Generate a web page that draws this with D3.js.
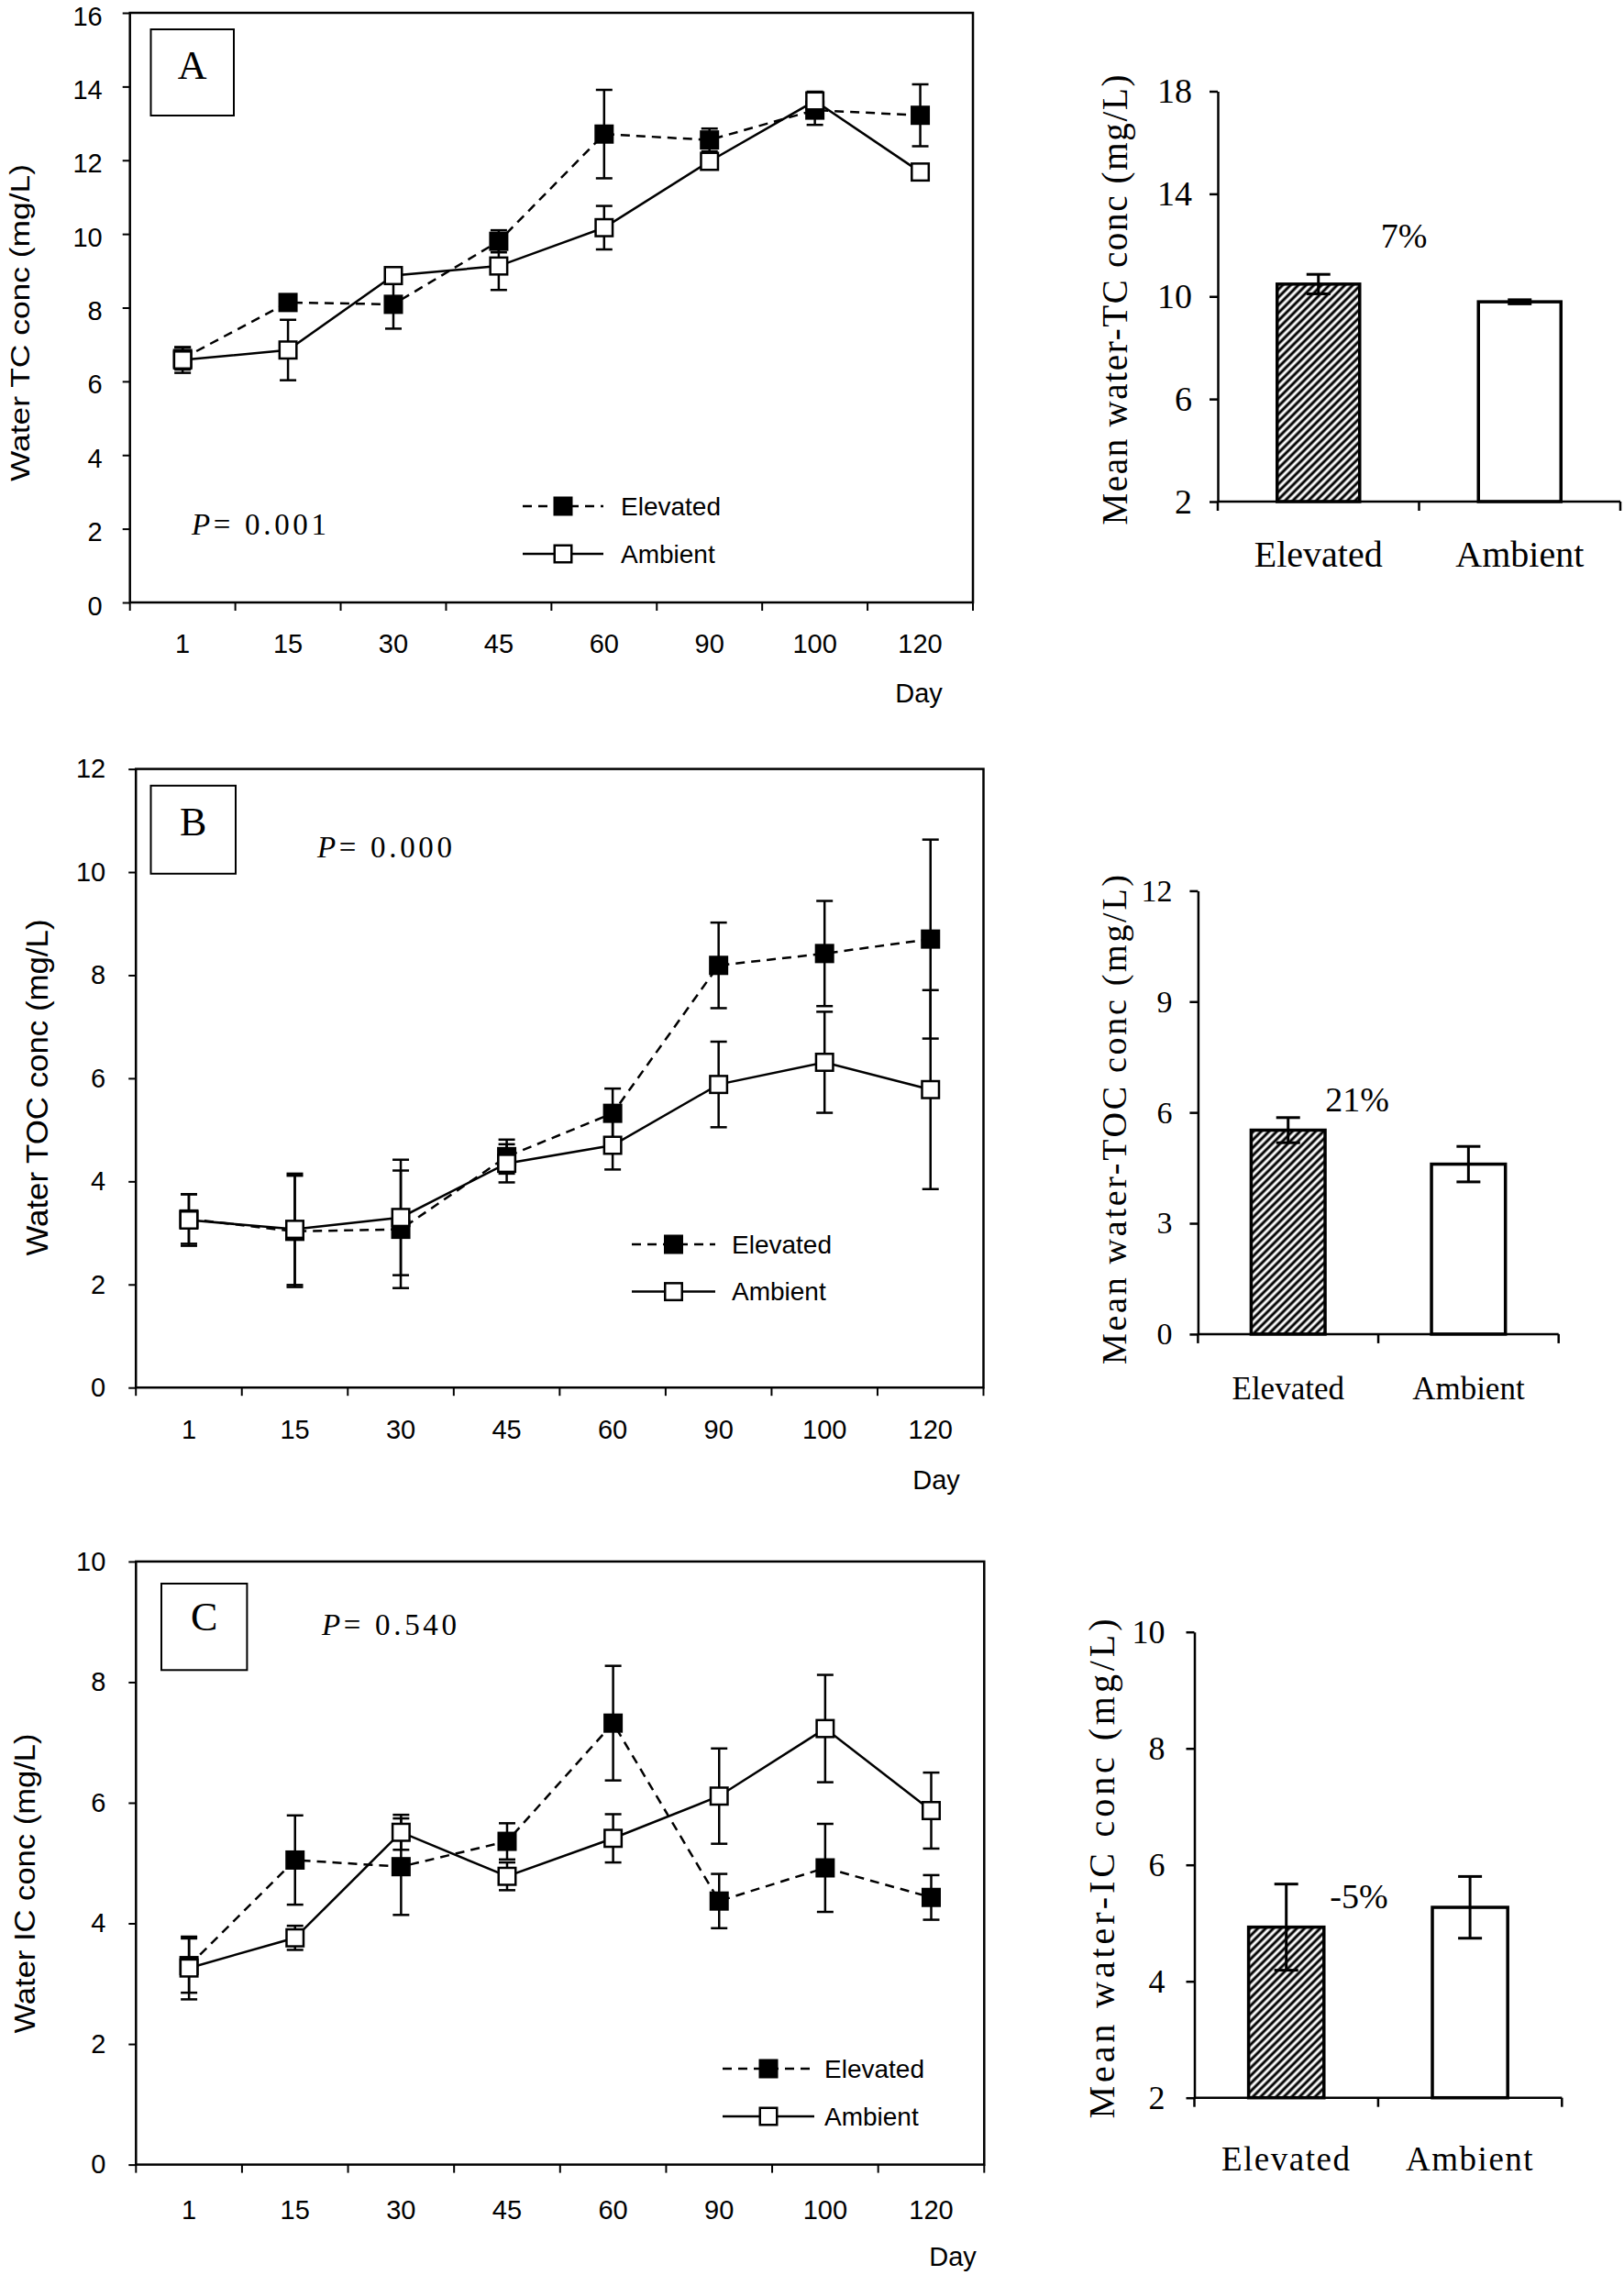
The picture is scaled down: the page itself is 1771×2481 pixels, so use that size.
<!DOCTYPE html>
<html>
<head>
<meta charset="utf-8">
<script src="https://d3js.org/d3.v7.min.js"></script>
<style>
  html, body { margin: 0; padding: 0; background: #fff; }
  svg { display: block; }
</style>
</head>
<body>
<svg id="fig" width="1771" height="2481"></svg>
<script>
// sampling days (x categories of the line charts)
const days = ['1', '15', '30', '45', '60', '90', '100', '120'];
const groups = ['Elevated', 'Ambient'];

// A: water total carbon (mg/L)
const tcElevated    = [6.62, 8.14, 8.09, 9.80, 12.71, 12.55, 13.36, 13.22];
const tcElevatedErr = [0.30, 0.10, 0.66, 0.30, 1.20, 0.31, 0.40, 0.84];
const tcAmbient     = [6.58, 6.85, 8.87, 9.13, 10.17, 11.97, 13.61, 11.68];
const tcAmbientErr  = [0.35, 0.82, 0.15, 0.65, 0.59, 0.15, 0.25, 0.10];
const tcTicks = [0, 2, 4, 6, 8, 10, 12, 14, 16];
const tcMean = [10.48, 9.79];
const tcMeanErr = [0.38, 0.08];
const tcMeanTicks = [2, 6, 10, 14, 18];

// B: water total organic carbon (mg/L)
const tocElevated    = [3.27, 3.03, 3.07, 4.48, 5.32, 8.19, 8.42, 8.70];
const tocElevatedErr = [0.48, 1.08, 1.14, 0.33, 0.48, 0.83, 1.02, 1.93];
const tocAmbient     = [3.25, 3.07, 3.30, 4.35, 4.70, 5.88, 6.31, 5.78];
const tocAmbientErr  = [0.50, 1.08, 1.12, 0.37, 0.47, 0.83, 0.98, 1.93];
const tocTicks = [0, 2, 4, 6, 8, 10, 12];
const tocMean = [5.52, 4.60];
const tocMeanErr = [0.34, 0.48];
const tocMeanTicks = [0, 3, 6, 9, 12];

// C: water inorganic carbon (mg/L)
const icElevated    = [3.30, 5.05, 4.94, 5.36, 7.32, 4.37, 4.92, 4.43];
const icElevatedErr = [0.45, 0.74, 0.80, 0.30, 0.95, 0.45, 0.73, 0.37];
const icAmbient     = [3.26, 3.76, 5.51, 4.78, 5.41, 6.11, 7.23, 5.87];
const icAmbientErr  = [0.52, 0.20, 0.29, 0.23, 0.40, 0.79, 0.89, 0.63];
const icTicks = [0, 2, 4, 6, 8, 10];
const icMean = [4.93, 5.27];
const icMeanErr = [0.74, 0.53];
const icMeanTicks = [2, 4, 6, 8, 10];

const SANS = '"Liberation Sans", Arial, sans-serif';
const SERIF = '"Liberation Serif", "Times New Roman", serif';

const svg = d3.select('#fig');
svg.append('rect').attr('width', 1771).attr('height', 2481).attr('fill', '#fff');

// diagonal hatch for the elevated bars
svg.append('defs').append('pattern')
  .attr('id', 'hatch')
  .attr('patternUnits', 'userSpaceOnUse')
  .attr('width', 6).attr('height', 6)
  .attr('patternTransform', 'rotate(45)')
  .call(p => {
    p.append('rect').attr('width', 6).attr('height', 6).attr('fill', '#fff');
    p.append('line').attr('x1', 3).attr('x2', 3).attr('y1', 0).attr('y2', 6)
      .attr('stroke', '#000').attr('stroke-width', 3);
  });

function linePanel(o) {
  const x = d3.scaleBand().domain(days).range([o.left, o.right]);
  const y = d3.scaleLinear().domain([0, d3.max(o.ticks)]).range([o.bottom, o.top]);
  const g = svg.append('g');

  // y axis
  g.append('g').attr('transform', `translate(${o.left},0)`)
    .call(d3.axisLeft(y).tickValues(o.ticks).tickSize(8).tickPadding(o.yPad).tickSizeOuter(0))
    .call(a => a.select('.domain').remove())
    .call(a => a.selectAll('line').attr('stroke', '#000').attr('stroke-width', 2))
    .call(a => a.selectAll('text').attr('font-family', SANS).attr('font-size', 29)
      .attr('dy', o.yDy || '0.32em').attr('fill', '#000'));

  // x labels at band centres, ticks at band edges
  g.append('g').attr('transform', `translate(0,${o.bottom})`)
    .call(d3.axisBottom(x).tickSize(0).tickPadding(o.xPad))
    .call(a => a.select('.domain').remove())
    .call(a => a.selectAll('text').attr('font-family', SANS).attr('font-size', 29).attr('fill', '#000'));
  const edges = days.map(d => x(d)).concat([o.right]);
  g.append('g').selectAll('line').data(edges).join('line')
    .attr('x1', d => d).attr('x2', d => d)
    .attr('y1', o.bottom).attr('y2', o.bottom + 9)
    .attr('stroke', '#000').attr('stroke-width', 2);

  g.append('text').text('Day')
    .attr('x', o.dayX).attr('y', o.dayY).attr('dy', '0.35em')
    .attr('text-anchor', 'middle')
    .attr('font-family', SANS).attr('font-size', 29);

  // y title
  g.append('text').text(o.yTitle)
    .attr('transform', `translate(${o.titleX},${o.titleY}) rotate(-90)`)
    .attr('dy', '0.35em').attr('text-anchor', 'middle')
    .attr('textLength', o.titleLen).attr('lengthAdjust', 'spacingAndGlyphs')
    .attr('font-family', SANS).attr('font-size', o.titleSize);

  // frame
  g.append('rect')
    .attr('x', o.left).attr('y', o.top)
    .attr('width', o.right - o.left).attr('height', o.bottom - o.top)
    .attr('fill', 'none').attr('stroke', '#000').attr('stroke-width', 2.5);

  // panel letter box
  g.append('rect')
    .attr('x', o.box[0]).attr('y', o.box[1]).attr('width', o.box[2]).attr('height', o.box[3])
    .attr('fill', 'none').attr('stroke', '#000').attr('stroke-width', 2);
  g.append('text').text(o.letter)
    .attr('x', o.box[0] + o.box[2] / 2).attr('y', o.letterY)
    .attr('text-anchor', 'middle')
    .attr('font-family', SERIF).attr('font-size', 44);

  // P value
  const pt = g.append('text')
    .attr('x', o.pX).attr('y', o.pY)
    .attr('textLength', 147).attr('lengthAdjust', 'spacing')
    .attr('font-family', SERIF).attr('font-size', 33);
  pt.append('tspan').attr('font-style', 'italic').text('P');
  pt.append('tspan').text('= ' + o.p);

  const cx = d => x(d.day) + x.bandwidth() / 2;
  const M = 18.5, CAP = 9;

  function series(vals, errs, filled) {
    const pts = vals.map((v, i) => ({ day: days[i], v, e: errs[i] }));
    const s = g.append('g');
    const eb = s.append('g').attr('stroke', '#000').attr('stroke-width', 2.5);
    eb.selectAll('line.v').data(pts).join('line').attr('class', 'v')
      .attr('x1', cx).attr('x2', cx)
      .attr('y1', d => y(d.v - d.e)).attr('y2', d => y(d.v + d.e));
    [-1, 1].forEach(sg => {
      eb.selectAll('line.c' + (sg + 1)).data(pts).join('line').attr('class', 'c' + (sg + 1))
        .attr('x1', d => cx(d) - CAP).attr('x2', d => cx(d) + CAP)
        .attr('y1', d => y(d.v + sg * d.e)).attr('y2', d => y(d.v + sg * d.e));
    });
    s.append('path').datum(pts)
      .attr('d', d3.line().x(cx).y(d => y(d.v)))
      .attr('fill', 'none').attr('stroke', '#000').attr('stroke-width', 2.5)
      .attr('stroke-dasharray', filled ? '10,7' : null);
    s.selectAll('rect').data(pts).join('rect')
      .attr('x', d => cx(d) - M / 2).attr('y', d => y(d.v) - M / 2)
      .attr('width', M).attr('height', M)
      .attr('fill', filled ? '#000' : '#fff')
      .attr('stroke', '#000').attr('stroke-width', 2.5);
  }
  series(o.elevated, o.elevatedErr, true);
  series(o.ambient, o.ambientErr, false);

  // legend
  const lg = g.append('g');
  [[o.legY[0], true, 'Elevated'], [o.legY[1], false, 'Ambient']].forEach(([ly, filled, label]) => {
    lg.append('line')
      .attr('x1', o.legLine[0]).attr('x2', o.legLine[1]).attr('y1', ly).attr('y2', ly)
      .attr('stroke', '#000').attr('stroke-width', 2.5)
      .attr('stroke-dasharray', filled ? '10,7' : null);
    const mx = (o.legLine[0] + o.legLine[1]) / 2;
    lg.append('rect')
      .attr('x', mx - M / 2).attr('y', ly - M / 2).attr('width', M).attr('height', M)
      .attr('fill', filled ? '#000' : '#fff').attr('stroke', '#000').attr('stroke-width', 2.5);
    lg.append('text').text(label)
      .attr('x', o.legText).attr('y', ly).attr('dy', '0.35em')
      .attr('font-family', SANS).attr('font-size', 28);
  });
}

function barPanel(o) {
  const x = d3.scaleBand().domain(groups).range([o.left, o.right]);
  const y = d3.scaleLinear().domain([d3.min(o.ticks), d3.max(o.ticks)]).range([o.bottom, o.top]);
  const g = svg.append('g');
  const bw = x.bandwidth() * 0.41;
  const cx = d => x(d) + x.bandwidth() / 2;

  g.append('g').attr('transform', `translate(${o.left},0)`)
    .call(d3.axisLeft(y).tickValues(o.ticks).tickSize(9).tickPadding(o.yPad).tickSizeOuter(0))
    .call(a => a.select('.domain').attr('stroke', '#000').attr('stroke-width', 2.5))
    .call(a => a.selectAll('line').attr('stroke', '#000').attr('stroke-width', 2.5))
    .call(a => a.selectAll('text').attr('font-family', SERIF).attr('font-size', o.tickSize).attr('fill', '#000'));

  const bars = groups.map((k, i) => ({ k, v: o.means[i], e: o.errs[i] }));
  g.selectAll('rect.bar').data(bars).join('rect').attr('class', 'bar')
    .attr('x', d => cx(d.k) - bw / 2).attr('width', bw)
    .attr('y', d => y(d.v)).attr('height', d => y(d3.min(o.ticks)) - y(d.v))
    .attr('fill', (d, i) => i === 0 ? 'url(#hatch)' : '#fff')
    .attr('stroke', '#000').attr('stroke-width', 3.5);

  const eb = g.append('g').attr('stroke', '#000').attr('stroke-width', 3);
  eb.selectAll('line.v').data(bars).join('line').attr('class', 'v')
    .attr('x1', d => cx(d.k)).attr('x2', d => cx(d.k))
    .attr('y1', d => y(d.v - d.e)).attr('y2', d => y(d.v + d.e));
  [-1, 1].forEach(sg => {
    eb.selectAll('line.c' + (sg + 1)).data(bars).join('line').attr('class', 'c' + (sg + 1))
      .attr('x1', d => cx(d.k) - 13).attr('x2', d => cx(d.k) + 13)
      .attr('y1', d => y(d.v + sg * d.e)).attr('y2', d => y(d.v + sg * d.e));
  });

  // x axis
  g.append('g').attr('transform', `translate(0,${o.bottom})`)
    .call(d3.axisBottom(x).tickSize(0).tickPadding(o.xPad))
    .call(a => a.select('.domain').remove())
    .call(a => a.selectAll('text').attr('font-family', SERIF).attr('font-size', o.catSize)
      .attr('letter-spacing', o.catSpacing).attr('fill', '#000'));
  g.append('line').attr('x1', o.left).attr('x2', o.right).attr('y1', o.bottom).attr('y2', o.bottom)
    .attr('stroke', '#000').attr('stroke-width', 2.5);
  g.append('g').selectAll('line').data([o.left, x('Ambient'), o.right]).join('line')
    .attr('x1', d => d).attr('x2', d => d).attr('y1', o.bottom).attr('y2', o.bottom + 10)
    .attr('stroke', '#000').attr('stroke-width', 2.5);

  g.append('text').text(o.yTitle)
    .attr('transform', `translate(${o.titleX},${o.titleY}) rotate(-90)`)
    .attr('dy', '0.35em').attr('text-anchor', 'middle')
    .attr('textLength', o.titleLen).attr('lengthAdjust', 'spacing')
    .attr('font-family', SERIF).attr('font-size', o.titleSize);

  g.append('text').text(o.pct)
    .attr('x', o.pctX).attr('y', o.pctY).attr('dy', '0.35em').attr('text-anchor', 'middle')
    .attr('font-family', SERIF).attr('font-size', 38);
}

linePanel({
  left: 141.7, right: 1061, top: 14, bottom: 657,
  ticks: tcTicks, yPad: 22, xPad: 34, yDy: '0.45em',
  elevated: tcElevated, elevatedErr: tcElevatedErr, ambient: tcAmbient, ambientErr: tcAmbientErr,
  yTitle: 'Water TC  conc (mg/L)', titleX: 21, titleY: 352, titleLen: 346, titleSize: 30,
  dayX: 1002, dayY: 756,
  box: [164.5, 32, 90.5, 94], letter: 'A', letterY: 86,
  p: '0.001', pX: 209, pY: 583,
  legLine: [570, 658], legText: 677, legY: [552, 604]
});
barPanel({
  left: 1328, right: 1767, top: 99.5, bottom: 547,
  ticks: tcMeanTicks, means: tcMean, errs: tcMeanErr,
  yPad: 19, tickSize: 38, xPad: 43, catSize: 40, catSpacing: 0,
  yTitle: 'Mean water-TC conc (mg/L)', titleX: 1215, titleY: 327, titleLen: 491, titleSize: 39,
  pct: '7%', pctX: 1531, pctY: 257
});

linePanel({
  left: 148.2, right: 1072.5, top: 838.6, bottom: 1513.2,
  ticks: tocTicks, yPad: 25, xPad: 35,
  elevated: tocElevated, elevatedErr: tocElevatedErr, ambient: tocAmbient, ambientErr: tocAmbientErr,
  yTitle: 'Water TOC conc (mg/L)', titleX: 40, titleY: 1186, titleLen: 367, titleSize: 34,
  dayX: 1021, dayY: 1614,
  box: [164.5, 856.8, 92.5, 96], letter: 'B', letterY: 911,
  p: '0.000', pX: 346, pY: 935,
  legLine: [689, 780], legText: 798, legY: [1357, 1408.6]
});
barPanel({
  left: 1306.4, right: 1699.7, top: 971.4, bottom: 1454.9,
  ticks: tocMeanTicks, means: tocMean, errs: tocMeanErr,
  yPad: 19, tickSize: 34, xPad: 46, catSize: 35, catSpacing: 0,
  yTitle: 'Mean water-TOC conc (mg/L)', titleX: 1215, titleY: 1221, titleLen: 534, titleSize: 38,
  pct: '21%', pctX: 1480, pctY: 1199
});

linePanel({
  left: 148.3, right: 1073.3, top: 1702.9, bottom: 2360.6,
  ticks: icTicks, yPad: 25, xPad: 39,
  elevated: icElevated, elevatedErr: icElevatedErr, ambient: icAmbient, ambientErr: icAmbientErr,
  yTitle: 'Water IC conc (mg/L)', titleX: 27, titleY: 2054, titleLen: 327, titleSize: 32,
  dayX: 1039, dayY: 2461,
  box: [176, 1727, 93.4, 94.3], letter: 'C', letterY: 1778,
  p: '0.540', pX: 351, pY: 1783,
  legLine: [788, 888], legText: 899, legY: [2256, 2308]
});
barPanel({
  left: 1302.5, right: 1703.3, top: 1779.7, bottom: 2287.7,
  ticks: icMeanTicks, means: icMean, errs: icMeanErr,
  yPad: 23, tickSize: 36, xPad: 53, catSize: 37, catSpacing: 1.5,
  yTitle: 'Mean water-IC conc (mg/L)', titleX: 1201, titleY: 2038, titleLen: 545, titleSize: 40,
  pct: '-5%', pctX: 1482, pctY: 2068
});
</script>
</body>
</html>
